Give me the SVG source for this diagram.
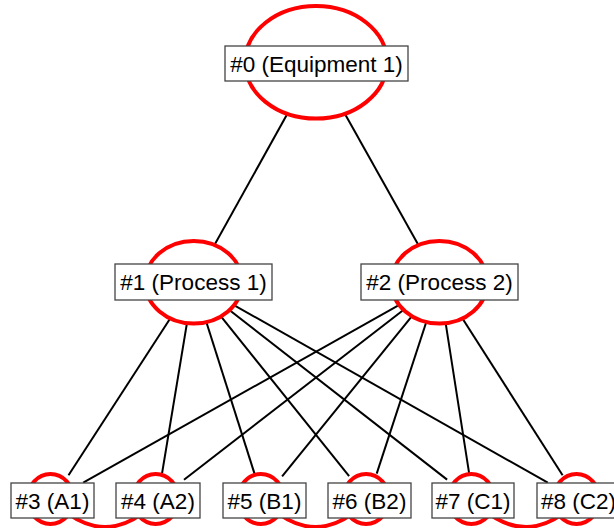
<svg xmlns="http://www.w3.org/2000/svg" width="614" height="528" viewBox="0 0 614 528">
  <style>
    .edge { stroke: #000; stroke-width: 2; fill: none; }
    .ring { stroke: #ff0000; stroke-width: 4; fill: #fff; }
    .ring-open { stroke: #ff0000; stroke-width: 4; fill: none; }
    .tag { fill: #fff; stroke: #444; stroke-width: 1.3; }
    .lbl { font-family: "Liberation Sans", Arial, sans-serif; font-size: 22.5px; fill: #000; text-anchor: middle; }
  </style>

  <!-- tree connectors -->
  <g id="connectors">
    <line class="edge" x1="316" y1="62.3" x2="193.7" y2="282.3"/>
    <line class="edge" x1="316" y1="62.3" x2="439.3" y2="282.3"/>

    <line class="edge" x1="193.7" y1="282.3" x2="68.5" y2="475.3"/>
    <line class="edge" x1="193.7" y1="282.3" x2="162.1" y2="473.2"/>
    <line class="edge" x1="193.7" y1="282.3" x2="254.5" y2="473.6"/>
    <line class="edge" x1="193.7" y1="282.3" x2="349.1" y2="476.2"/>
    <line class="edge" x1="193.7" y1="282.3" x2="447.1" y2="479.6"/>
    <line class="edge" x1="193.7" y1="282.3" x2="547.8" y2="482.7"/>

    <line class="edge" x1="439.3" y1="282.3" x2="83.2" y2="482.7"/>
    <line class="edge" x1="439.3" y1="282.3" x2="184.0" y2="479.7"/>
    <line class="edge" x1="439.3" y1="282.3" x2="282.1" y2="476.3"/>
    <line class="edge" x1="439.3" y1="282.3" x2="376.7" y2="473.6"/>
    <line class="edge" x1="439.3" y1="282.3" x2="469.1" y2="473.1"/>
    <line class="edge" x1="439.3" y1="282.3" x2="562.6" y2="475.2"/>

    <!-- sibling links -->
    <path class="ring-open" d="M52.5,500 Q105.1,554 157.7,500"/>
    <path class="ring-open" d="M262.9,500 Q315.5,554 368.1,500"/>
    <path class="ring-open" d="M473.3,500 Q525.9,554 578.5,500"/>
  </g>

  <g id="n0">
    <ellipse class="ring" cx="316" cy="62.3" rx="71" ry="56.3"/>
    <rect class="tag" x="225" y="46" width="183" height="35"/>
    <text class="lbl" x="316.5" y="71.5">#0 (Equipment 1)</text>
  </g>

  <g id="n1">
    <ellipse class="ring" cx="193.7" cy="282.3" rx="48.4" ry="41.3"/>
    <rect class="tag" x="115" y="264" width="157" height="36"/>
    <text class="lbl" x="193.5" y="290">#1 (Process 1)</text>
  </g>

  <g id="n2">
    <ellipse class="ring" cx="439.3" cy="282.3" rx="48" ry="41.3"/>
    <rect class="tag" x="361" y="264" width="157" height="36"/>
    <text class="lbl" x="439.5" y="290">#2 (Process 2)</text>
  </g>

  <g id="n3">
    <ellipse class="ring-open" cx="50.5" cy="499" rx="23" ry="25"/>
    <rect class="tag" x="11" y="483" width="83" height="35"/>
    <text class="lbl" x="52.5" y="508.5">#3 (A1)</text>
  </g>

  <g id="n4">
    <ellipse class="ring-open" cx="155.7" cy="499" rx="23" ry="25"/>
    <rect class="tag" x="116" y="483" width="84" height="35"/>
    <text class="lbl" x="158" y="508.5">#4 (A2)</text>
  </g>

  <g id="n5">
    <ellipse class="ring-open" cx="260.9" cy="499" rx="23" ry="25"/>
    <rect class="tag" x="223" y="483" width="83" height="35"/>
    <text class="lbl" x="264.5" y="508.5">#5 (B1)</text>
  </g>

  <g id="n6">
    <ellipse class="ring-open" cx="366.1" cy="499" rx="23" ry="25"/>
    <rect class="tag" x="328" y="483" width="83" height="35"/>
    <text class="lbl" x="369.5" y="508.5">#6 (B2)</text>
  </g>

  <g id="n7">
    <ellipse class="ring-open" cx="471.3" cy="499" rx="23" ry="25"/>
    <rect class="tag" x="432" y="483" width="82" height="35"/>
    <text class="lbl" x="473" y="508.5">#7 (C1)</text>
  </g>

  <g id="n8">
    <ellipse class="ring-open" cx="576.5" cy="499" rx="23" ry="25"/>
    <rect class="tag" x="537" y="483" width="83" height="35"/>
    <text class="lbl" x="578.5" y="508.5">#8 (C2)</text>
  </g>
</svg>
